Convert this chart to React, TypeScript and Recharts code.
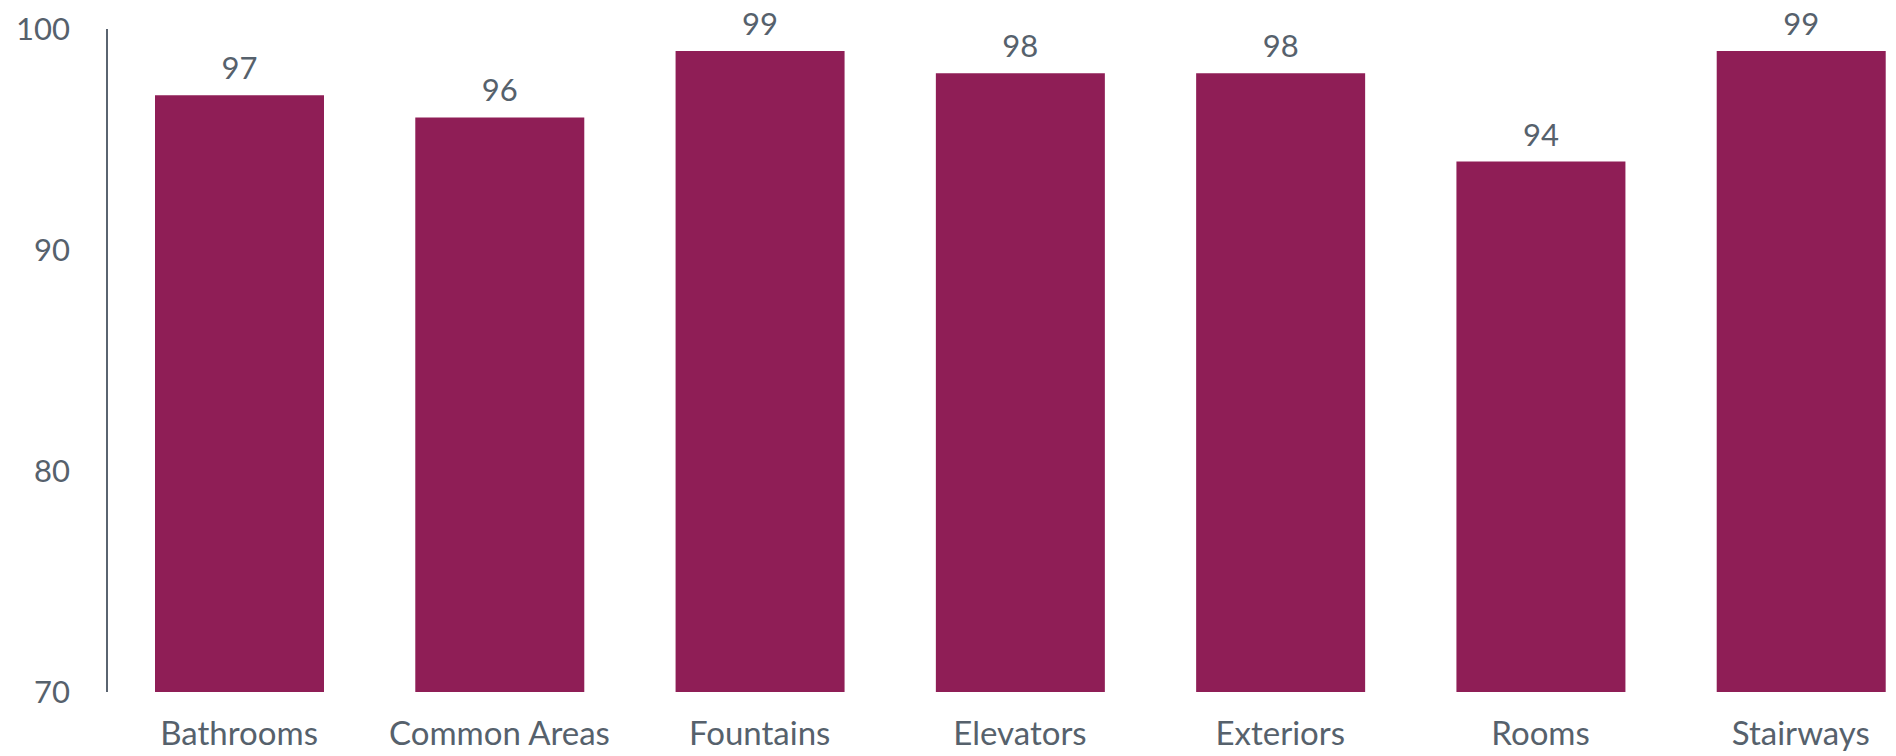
import React from "react";
import { BarChart, Bar, XAxis, YAxis, LabelList } from "recharts";

const areas = [
  "Bathrooms",
  "Common Areas",
  "Fountains",
  "Elevators",
  "Exteriors",
  "Rooms",
  "Stairways",
];
const scores = [97, 96, 99, 98, 98, 94, 99];
const yTicks = [70, 80, 90, 100];

const data = areas.map((area, i) => ({ area, score: scores[i] }));

const textColor = "#56616c";
const barColor = "#8f1e56";
const font = "Lato, 'Open Sans', sans-serif";

const App: React.FC = () => {
  return (
    <div
      style={{
        position: "absolute",
        left: 0,
        top: 0,
        width: 1896,
        height: 756,
        overflow: "hidden",
        background: "#fff",
      }}
    >
      <BarChart
        width={1931}
        height={756}
        data={data}
        margin={{ top: 29, right: 0, bottom: 0, left: 0 }}
      >
        <XAxis
          dataKey="area"
          axisLine={false}
          tickLine={false}
          tickSize={0}
          tickMargin={30}
          height={64}
          padding={{ left: 2, right: 0 }}
          interval={0}
          tick={{ fill: textColor, fontSize: 33, fontFamily: font }}
        />
        <YAxis
          domain={[70, 100]}
          ticks={yTicks}
          width={107}
          tickLine={false}
          tickSize={0}
          tickMargin={37}
          axisLine={{ stroke: "#5a6470", strokeWidth: 2 }}
          tick={{ fill: textColor, fontSize: 31, fontFamily: font }}
        />
        <Bar dataKey="score" fill={barColor} barSize={169} isAnimationActive={false}>
          <LabelList
            dataKey="score"
            position="top"
            offset={16}
            fill={textColor}
            fontSize={31}
            fontFamily={font}
          />
        </Bar>
      </BarChart>
    </div>
  );
};

export default App;
